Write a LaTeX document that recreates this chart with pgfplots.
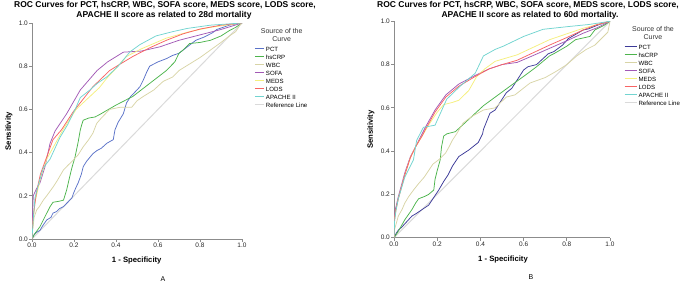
\documentclass[border=0pt]{standalone}
\usepackage{fontspec}
\setmainfont{Liberation Sans}
\usepackage{pgfplots}
\pgfplotsset{compat=1.18}

\definecolor{cPCT}{HTML}{5A72C8}
\definecolor{cPCTb}{HTML}{3C3A98}
\definecolor{cCRP}{HTML}{4CB44C}
\definecolor{cWBC}{HTML}{D8D4A6}
\definecolor{cSOFA}{HTML}{A259B5}
\definecolor{cMEDS}{HTML}{F5EF7E}
\definecolor{cLODS}{HTML}{F86464}
\definecolor{cAPA}{HTML}{72D4D0}
\definecolor{cRef}{HTML}{DADADA}
\definecolor{cAx}{HTML}{8C8C8C}

\pgfplotsset{rocaxis/.style={
  scale only axis, anchor=south west,
  xmin=0,xmax=1,ymin=0,ymax=1,
  axis x line*=bottom, axis y line*=left,
  axis line style={cAx, line width=0.8pt, -},
  tick align=outside, major tick length=3pt,
  tick style={cAx, line width=0.8pt},
  xtick={0,0.2,0.4,0.6,0.8,1}, ytick={0,0.2,0.4,0.6,0.8,1},
  tick label style={font=\fontsize{6.5}{7}\selectfont, text=black!85},
  /pgf/number format/fixed, /pgf/number format/fixed zerofill,
  /pgf/number format/precision=1, /pgf/number format/assume math mode=true,
  xticklabel style={inner sep=1pt}, yticklabel style={inner sep=1pt},
  legend cell align=left,
  legend style={draw=none, fill=none, inner sep=0pt, outer sep=0pt, anchor=north west,
    font=\fontsize{6.1}{7}\selectfont, row sep=0pt, column sep=1.5pt,
    nodes={inner sep=0pt, text height=5pt, text depth=3pt}},
  every axis plot/.append style={line width=0.75pt},
}}

\begin{document}
\begin{tikzpicture}
\path[use as bounding box] (0,0) rectangle (700pt,282pt);

% ---------------- Panel A ----------------
\begin{axis}[rocaxis, at={(32pt,43pt)}, width=210pt, height=216pt,
  legend style={at={(1.0595,0.892)}},
  legend image code/.code={\draw[#1] (0pt,1.8pt) -- (9pt,1.8pt);}]
\addplot[cRef, line width=1pt, forget plot] coordinates {(0,0) (1,1)};
\addplot[cPCT] coordinates {(0,0) (0.01,0.02) (0.02,0.03) (0.038,0.04) (0.05,0.06) (0.07,0.088) (0.09,0.10) (0.10,0.12) (0.117,0.127) (0.13,0.14) (0.15,0.15) (0.17,0.17) (0.19,0.19) (0.197,0.21) (0.21,0.24) (0.22,0.26) (0.235,0.30) (0.244,0.335) (0.26,0.36) (0.29,0.395) (0.31,0.41) (0.33,0.42) (0.356,0.443) (0.387,0.46) (0.395,0.505) (0.41,0.54) (0.435,0.58) (0.45,0.63) (0.47,0.66) (0.49,0.68) (0.514,0.705) (0.53,0.736) (0.545,0.77) (0.56,0.80) (0.60,0.82) (0.64,0.835) (0.67,0.85) (0.70,0.86) (0.74,0.89) (0.78,0.92) (0.82,0.935) (0.86,0.955) (0.88,0.97) (0.91,0.98) (0.94,0.99) (0.97,0.995) (1,1)};
\addlegendentry{PCT}
\addplot[cCRP] coordinates {(0,0) (0.01,0.02) (0.038,0.057) (0.06,0.10) (0.086,0.15) (0.10,0.17) (0.13,0.175) (0.15,0.18) (0.165,0.227) (0.18,0.29) (0.19,0.33) (0.205,0.38) (0.22,0.45) (0.23,0.505) (0.237,0.53) (0.244,0.55) (0.27,0.56) (0.30,0.565) (0.32,0.575) (0.40,0.62) (0.48,0.66) (0.56,0.72) (0.64,0.78) (0.68,0.82) (0.70,0.86) (0.72,0.875) (0.75,0.905) (0.80,0.91) (0.85,0.92) (0.90,0.94) (0.94,0.965) (0.97,0.98) (1,1)};
\addlegendentry{hsCRP}
\addplot[cWBC] coordinates {(0,0) (0.003,0.04) (0.01,0.10) (0.022,0.134) (0.035,0.15) (0.054,0.18) (0.07,0.20) (0.085,0.22) (0.10,0.24) (0.12,0.27) (0.15,0.32) (0.17,0.34) (0.197,0.366) (0.22,0.39) (0.244,0.427) (0.27,0.46) (0.29,0.49) (0.308,0.535) (0.33,0.56) (0.37,0.60) (0.42,0.61) (0.475,0.61) (0.50,0.64) (0.53,0.66) (0.58,0.69) (0.625,0.73) (0.67,0.75) (0.70,0.78) (0.75,0.81) (0.80,0.84) (0.85,0.875) (0.90,0.91) (0.94,0.94) (0.97,0.96) (0.99,0.99) (1,1)};
\addlegendentry{WBC}
\addplot[cSOFA] coordinates {(0,0) (0.003,0.12) (0.006,0.20) (0.02,0.23) (0.038,0.26) (0.062,0.335) (0.086,0.443) (0.11,0.50) (0.165,0.58) (0.23,0.69) (0.31,0.78) (0.36,0.82) (0.435,0.865) (0.52,0.87) (0.61,0.89) (0.70,0.92) (0.80,0.945) (0.90,0.97) (1,1)};
\addlegendentry{SOFA}
\addplot[cMEDS] coordinates {(0,0) (0.005,0.08) (0.014,0.17) (0.04,0.28) (0.07,0.37) (0.11,0.44) (0.15,0.51) (0.21,0.60) (0.276,0.66) (0.32,0.70) (0.356,0.744) (0.40,0.79) (0.45,0.845) (0.52,0.88) (0.64,0.93) (0.75,0.96) (0.85,0.98) (1,1)};
\addlegendentry{MEDS}
\addplot[cLODS] coordinates {(0,0) (0.005,0.10) (0.022,0.22) (0.04,0.30) (0.07,0.38) (0.10,0.46) (0.14,0.505) (0.197,0.59) (0.29,0.705) (0.37,0.78) (0.42,0.81) (0.48,0.845) (0.56,0.885) (0.64,0.92) (0.72,0.95) (0.80,0.972) (0.90,0.99) (1,1)};
\addlegendentry{LODS}
\addplot[cAPA] coordinates {(0,0) (0.005,0.08) (0.014,0.19) (0.03,0.25) (0.054,0.33) (0.086,0.37) (0.133,0.47) (0.17,0.53) (0.21,0.61) (0.23,0.655) (0.276,0.69) (0.31,0.72) (0.356,0.75) (0.41,0.80) (0.467,0.867) (0.514,0.90) (0.59,0.94) (0.67,0.96) (0.74,0.975) (0.85,0.99) (1,1)};
\addlegendentry{APACHE II}
\addlegendimage{cRef, line width=1pt}
\addlegendentry{Reference Line}
\end{axis}

% ---------------- Panel B ----------------
\begin{axis}[rocaxis, at={(394pt,44.3pt)}, width=216pt, height=216.4pt,
  legend style={at={(1.065,0.894)}},
  legend image code/.code={\draw[#1] (0pt,1.8pt) -- (12pt,1.8pt);}]
\addplot[cRef, line width=1pt, forget plot] coordinates {(0,0) (1,1)};
\addplot[cPCTb] coordinates {(0,0) (0.01,0.02) (0.02,0.035) (0.037,0.05) (0.06,0.075) (0.083,0.10) (0.10,0.11) (0.13,0.13) (0.16,0.15) (0.18,0.18) (0.207,0.22) (0.23,0.26) (0.25,0.29) (0.27,0.33) (0.30,0.375) (0.346,0.405) (0.39,0.44) (0.41,0.48) (0.414,0.50) (0.444,0.575) (0.468,0.59) (0.52,0.67) (0.545,0.69) (0.60,0.775) (0.62,0.79) (0.66,0.80) (0.714,0.85) (0.74,0.86) (0.78,0.89) (0.807,0.92) (0.876,0.96) (0.90,0.965) (0.95,0.985) (1,1)};
\addlegendentry{PCT}
\addplot[cCRP] coordinates {(0,0) (0.02,0.03) (0.05,0.083) (0.083,0.13) (0.10,0.16) (0.114,0.18) (0.14,0.19) (0.16,0.20) (0.184,0.22) (0.19,0.27) (0.20,0.31) (0.214,0.36) (0.22,0.42) (0.23,0.47) (0.245,0.48) (0.284,0.49) (0.306,0.51) (0.414,0.61) (0.537,0.70) (0.62,0.76) (0.66,0.79) (0.72,0.84) (0.745,0.853) (0.80,0.885) (0.84,0.915) (0.907,0.93) (0.93,0.96) (0.97,0.98) (1,1)};
\addlegendentry{hsCRP}
\addplot[cWBC] coordinates {(0,0) (0.003,0.04) (0.006,0.05) (0.02,0.10) (0.037,0.13) (0.05,0.16) (0.068,0.19) (0.09,0.22) (0.114,0.25) (0.14,0.28) (0.16,0.31) (0.18,0.34) (0.207,0.36) (0.238,0.39) (0.255,0.42) (0.27,0.45) (0.29,0.48) (0.32,0.53) (0.36,0.56) (0.414,0.59) (0.468,0.60) (0.52,0.65) (0.56,0.66) (0.63,0.715) (0.70,0.74) (0.753,0.77) (0.80,0.80) (0.846,0.84) (0.89,0.87) (0.93,0.89) (0.96,0.92) (0.99,0.95) (1,1)};
\addlegendentry{WBC}
\addplot[cSOFA] coordinates {(0,0) (0.003,0.10) (0.006,0.13) (0.02,0.19) (0.05,0.30) (0.076,0.375) (0.10,0.42) (0.13,0.48) (0.145,0.51) (0.19,0.59) (0.24,0.66) (0.30,0.71) (0.376,0.75) (0.44,0.78) (0.50,0.80) (0.57,0.81) (0.64,0.84) (0.72,0.875) (0.80,0.91) (0.876,0.945) (0.94,0.97) (1,1)};
\addlegendentry{SOFA}
\addplot[cMEDS] coordinates {(0,0) (0.003,0.09) (0.01,0.13) (0.02,0.18) (0.05,0.29) (0.076,0.37) (0.10,0.42) (0.13,0.47) (0.16,0.52) (0.20,0.58) (0.23,0.615) (0.27,0.625) (0.30,0.635) (0.346,0.68) (0.383,0.745) (0.42,0.78) (0.468,0.815) (0.57,0.845) (0.72,0.915) (0.876,0.968) (1,1)};
\addlegendentry{MEDS}
\addplot[cLODS] coordinates {(0,0) (0.003,0.09) (0.006,0.12) (0.02,0.18) (0.05,0.29) (0.076,0.37) (0.10,0.42) (0.13,0.47) (0.145,0.50) (0.19,0.58) (0.24,0.65) (0.30,0.70) (0.376,0.745) (0.44,0.78) (0.50,0.80) (0.57,0.82) (0.72,0.89) (0.80,0.925) (0.876,0.96) (0.94,0.985) (1,1)};
\addlegendentry{LODS}
\addplot[cAPA] coordinates {(0,0) (0.003,0.08) (0.01,0.13) (0.02,0.18) (0.05,0.28) (0.09,0.36) (0.105,0.45) (0.136,0.51) (0.19,0.52) (0.244,0.64) (0.306,0.70) (0.376,0.76) (0.414,0.84) (0.468,0.87) (0.506,0.885) (0.60,0.93) (0.69,0.963) (0.80,0.975) (0.90,0.985) (1,1)};
\addlegendentry{APACHE II}
\addlegendimage{cRef, line width=1pt}
\addlegendentry{Reference Line}
\end{axis}

% ---------------- Texts ----------------
\begin{scope}[every node/.style={inner sep=0pt}]
\node[font=\bfseries\fontsize{8.5}{10}\selectfont, anchor=base] at (165pt,274.5pt) {ROC Curves for PCT, hsCRP, WBC, SOFA score, MEDS score, LODS score,};
\node[font=\bfseries\fontsize{8.5}{10}\selectfont, anchor=base] at (164pt,264.5pt) {APACHE II score as related to 28d mortality};
\node[font=\bfseries\fontsize{8.5}{10}\selectfont, anchor=base] at (528pt,274.7pt) {ROC Curves for PCT, hsCRP, WBC, SOFA score, MEDS score, LODS score,};
\node[font=\bfseries\fontsize{8.5}{10}\selectfont, anchor=base] at (530pt,264.7pt) {APACHE II score as related to 60d mortality.};

\node[rotate=90, font=\bfseries\fontsize{7.7}{9}\selectfont] at (9pt,151pt) {Sensitivity};
\node[rotate=90, font=\bfseries\fontsize{7.7}{9}\selectfont] at (371pt,152.5pt) {Sensitivity};
\node[font=\bfseries\fontsize{7.7}{9}\selectfont] at (136.7pt,21pt) {1 - Specificity};
\node[font=\bfseries\fontsize{7.7}{9}\selectfont] at (503pt,22pt) {1 - Specificity};
\node[font=\fontsize{7}{8}\selectfont] at (163pt,3pt) {A};
\node[font=\fontsize{7}{8}\selectfont] at (531pt,4.5pt) {B};

\node[font=\fontsize{7}{8}\selectfont, text=black!80] at (281.7pt,251pt) {Source of the};
\node[font=\fontsize{7}{8}\selectfont, text=black!80] at (281.7pt,243pt) {Curve};
\node[font=\fontsize{7}{8}\selectfont, text=black!80] at (653pt,253pt) {Source of the};
\node[font=\fontsize{7}{8}\selectfont, text=black!80] at (653pt,245pt) {Curve};
\end{scope}
\end{tikzpicture}
\end{document}
